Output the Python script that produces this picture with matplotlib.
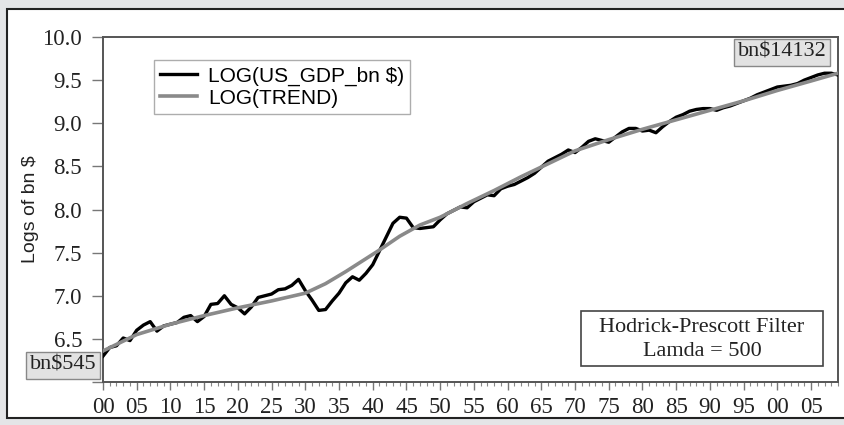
import numpy as np
import matplotlib
matplotlib.use('Agg')
import matplotlib.pyplot as plt
from matplotlib.patches import Rectangle
from matplotlib.ticker import MultipleLocator, FixedLocator, FixedFormatter

plt.rcParams['font.family'] = ['Liberation Serif', 'DejaVu Serif']

# Datos (log del PIB de EE.UU., 1900-2009)
years = np.arange(1900, 2010)
log_gdp = [
    6.30, 6.40, 6.42, 6.51, 6.48, 6.60, 6.66, 6.70, 6.59, 6.65,   # 1900s
    6.67, 6.69, 6.75, 6.77, 6.70, 6.76, 6.90, 6.91, 7.00, 6.90,   # 1910s
    6.86, 6.79, 6.87, 6.98, 7.00, 7.02, 7.07, 7.08, 7.12, 7.19,   # 1920s
    7.06, 6.95, 6.83, 6.84, 6.94, 7.03, 7.15, 7.22, 7.18, 7.26,   # 1930s
    7.36, 7.52, 7.68, 7.84, 7.91, 7.90, 7.79, 7.78, 7.79, 7.80,   # 1940s
    7.88, 7.95, 7.99, 8.03, 8.02, 8.09, 8.13, 8.17, 8.16, 8.24,   # 1950s
    8.27, 8.29, 8.33, 8.37, 8.42, 8.49, 8.56, 8.60, 8.64, 8.69,   # 1960s
    8.66, 8.72, 8.79, 8.82, 8.80, 8.78, 8.84, 8.90, 8.94, 8.94,   # 1970s
    8.91, 8.92, 8.89, 8.96, 9.02, 9.07, 9.10, 9.14, 9.16, 9.17,   # 1980s
    9.17, 9.15, 9.18, 9.20, 9.23, 9.26, 9.29, 9.33, 9.36, 9.39,   # 1990s
    9.42, 9.43, 9.44, 9.46, 9.50, 9.53, 9.56, 9.58, 9.58, 9.56,   # 2000s
]

trend_years = [1900, 1905, 1910, 1915, 1920, 1925, 1930, 1933, 1936, 1939,
               1941, 1944, 1947, 1950, 1954, 1958, 1962, 1966, 1970, 1975,
               1980, 1985, 1990, 1995, 2000, 2005, 2009]
log_trend = [6.36, 6.55, 6.67, 6.77, 6.86, 6.94, 7.03, 7.14, 7.28, 7.43,
             7.53, 7.69, 7.82, 7.91, 8.07, 8.22, 8.38, 8.53, 8.68, 8.81,
             8.93, 9.04, 9.15, 9.26, 9.38, 9.49, 9.58]

y_ticks = [6.0, 6.5, 7.0, 7.5, 8.0, 8.5, 9.0, 9.5, 10.0]
y_labels = ['', '6.5', '7.0', '7.5', '8.0', '8.5', '9.0', '9.5', '10.0']
x_ticks = list(range(1900, 2010, 5))
x_labels = ['%02d' % (y % 100) for y in x_ticks]

fig = plt.figure(figsize=(8.45, 4.25), dpi=100)
fig.patch.set_facecolor('#e4e5e7')

# panel blanco con borde
fig.patches.append(Rectangle((7 / 845, 7 / 425), 1.0, 409 / 425, transform=fig.transFigure,
                             facecolor='white', edgecolor='#222222', lw=1.5, zorder=-5))

ax = fig.add_axes([103 / 845, 43 / 425, 735 / 845, 345 / 425])
ax.set_facecolor('none')
ax.plot(years, log_gdp, color='black', lw=2.4, label='LOG(US_GDP_bn $)', zorder=3)
ax.plot(trend_years, log_trend, color='#8a8a8a', lw=2.6, label='LOG(TREND)', zorder=4)

ax.set_xlim(1900, 2009)
ax.set_ylim(6.0, 10.0)
ax.xaxis.set_major_locator(FixedLocator(x_ticks))
ax.xaxis.set_major_formatter(FixedFormatter(x_labels))
ax.xaxis.set_minor_locator(MultipleLocator(1))
ax.yaxis.set_major_locator(FixedLocator(y_ticks))
ax.yaxis.set_major_formatter(FixedFormatter(y_labels))

for s in ax.spines.values():
    s.set_color('#555555')
    s.set_linewidth(1.4)
ax.tick_params(axis='both', which='major', direction='out', length=6, width=1,
               color='#777777', labelsize=16.5, labelcolor='#222222', pad=5)
ax.tick_params(axis='x', which='minor', direction='out', length=3, width=0.8, color='#888888')
ax.tick_params(axis='y', which='major', length=8, pad=7)

fig.text(31 / 845, 1 - 209 / 425, 'Logs of bn $', rotation=90, ha='center', va='center',
         fontsize=14, color='#222222', family=['Liberation Sans', 'DejaVu Sans'])

leg = ax.legend(loc='upper left', bbox_to_anchor=(0.069, 0.933), borderaxespad=0,
                prop={'family': ['Liberation Sans', 'DejaVu Sans'], 'size': 15},
                frameon=True, fancybox=False, handlelength=1.8,
                handletextpad=0.5, labelspacing=0.15, borderpad=0.3)
leg.get_frame().set_edgecolor('#999999')
leg.get_frame().set_linewidth(1.0)

# cuadro del filtro
ax.add_patch(Rectangle((0.650, 0.046), 0.330, 0.160, transform=ax.transAxes,
                       facecolor='white', edgecolor='#444444', lw=1.2, zorder=5))
ax.text(0.815, 0.157, 'Hodrick-Prescott Filter', transform=ax.transAxes, ha='center',
        va='center', fontsize=16, color='#222222', zorder=6)
ax.text(0.815, 0.087, 'Lamda = 500', transform=ax.transAxes, ha='center',
        va='center', fontsize=16, color='#222222', zorder=6)

# etiquetas de valores extremos
fig.text(782 / 845, 1 - 52 / 425, 'bn$14132', ha='center', va='center', fontsize=16,
         color='#222222', zorder=10,
         bbox=dict(boxstyle='square,pad=0.18', facecolor='#e2e2e2', edgecolor='#888888', lw=1))
fig.text(63 / 845, 1 - 365 / 425, 'bn$545', ha='center', va='center', fontsize=16,
         color='#222222', zorder=10,
         bbox=dict(boxstyle='square,pad=0.18', facecolor='#e2e2e2', edgecolor='#888888', lw=1))

fig.savefig('out.png', dpi=100, facecolor=fig.get_facecolor())
